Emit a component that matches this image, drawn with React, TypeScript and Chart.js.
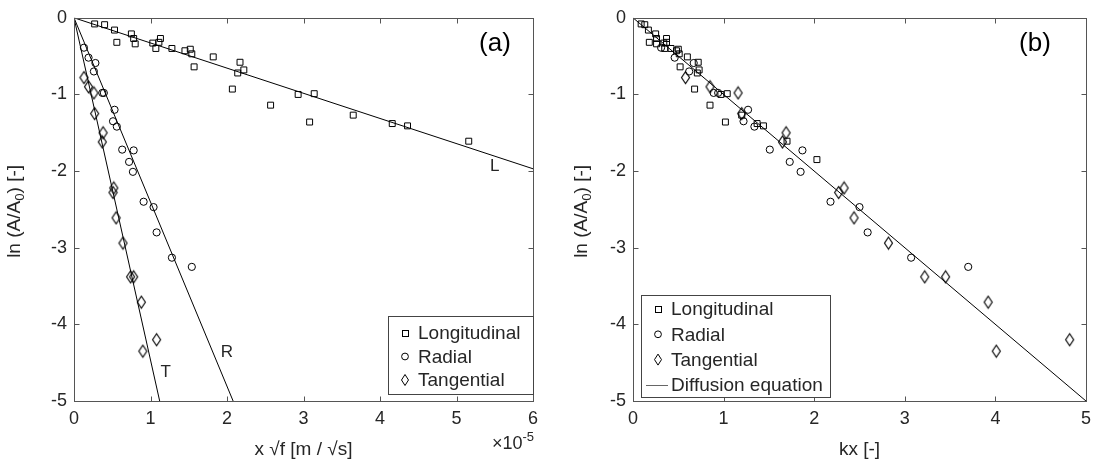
import React, { useEffect, useRef } from "react";
import { Chart, registerables } from "chart.js";

Chart.register(...registerables);

const FONT = "'Liberation Sans', Arial, Helvetica, sans-serif";
const TXT = "#262626";

// ---------- Panel (a): ln(A/A0) vs x*sqrt(f)  (x in units of 1e-5) ----------
const longX = [0.27, 0.40, 0.53, 0.56, 0.75, 0.78, 0.80, 1.03, 1.07, 1.11, 1.13, 1.28, 1.45, 1.52, 1.54, 1.57, 1.82, 2.07, 2.14, 2.17, 2.22, 2.57, 2.93, 3.08, 3.14, 3.65, 4.16, 4.36, 5.16];
const longY = [-0.08, -0.09, -0.16, -0.32, -0.21, -0.27, -0.34, -0.33, -0.40, -0.32, -0.27, -0.40, -0.43, -0.41, -0.47, -0.64, -0.51, -0.93, -0.72, -0.58, -0.68, -1.14, -1.00, -1.36, -0.99, -1.27, -1.38, -1.41, -1.61];

const radX = [0.13, 0.19, 0.28, 0.26, 0.37, 0.39, 0.53, 0.51, 0.56, 0.63, 0.78, 0.72, 0.77, 0.91, 1.04, 1.08, 1.28, 1.54];
const radY = [-0.39, -0.52, -0.59, -0.70, -0.98, -0.98, -1.20, -1.35, -1.42, -1.72, -1.73, -1.88, -2.01, -2.40, -2.47, -2.80, -3.13, -3.25];

const tanX = [0.13, 0.19, 0.26, 0.27, 0.38, 0.37, 0.52, 0.51, 0.55, 0.64, 0.74, 0.78, 0.88, 1.08, 0.90];
const tanY = [-0.78, -0.90, -0.98, -1.25, -1.50, -1.62, -2.22, -2.28, -2.61, -2.94, -3.38, -3.38, -3.71, -4.20, -4.35];

// fitted lines (start and end points)
const fitLX = [0, 6];
const fitLY = [0, -1.97];
const fitRX = [0, 2.08];
const fitRY = [0, -5];
const fitTX = [0, 1.12];
const fitTY = [0, -5];

// ---------- Panel (b): ln(A/A0) vs kx ----------
const kLongX = [0.09, 0.13, 0.17, 0.18, 0.25, 0.26, 0.26, 0.34, 0.35, 0.37, 0.37, 0.42, 0.48, 0.50, 0.51, 0.52, 0.60, 0.68, 0.71, 0.72, 0.73, 0.85, 0.97, 1.02, 1.04, 1.20, 1.37, 1.44, 1.70, 2.03];
const kLongY = [-0.08, -0.09, -0.16, -0.32, -0.21, -0.27, -0.34, -0.33, -0.40, -0.32, -0.27, -0.40, -0.43, -0.41, -0.47, -0.64, -0.51, -0.93, -0.72, -0.58, -0.68, -1.14, -1.00, -1.36, -0.99, -1.27, -1.38, -1.41, -1.61, -1.85];

const kRadX = [0.31, 0.46, 0.67, 0.62, 0.89, 0.94, 1.27, 1.22, 1.34, 1.51, 1.87, 1.73, 1.85, 2.18, 2.50, 2.59, 3.07, 3.70];
const kRadY = [-0.39, -0.52, -0.59, -0.70, -0.98, -0.98, -1.20, -1.35, -1.42, -1.72, -1.73, -1.88, -2.01, -2.40, -2.47, -2.80, -3.13, -3.25];

const kTanX = [0.58, 0.85, 1.16, 1.20, 1.69, 1.65, 2.33, 2.27, 2.44, 2.82, 3.22, 3.45, 3.92, 4.82, 4.01];
const kTanY = [-0.78, -0.90, -0.98, -1.25, -1.50, -1.62, -2.22, -2.28, -2.61, -2.94, -3.38, -3.38, -3.71, -4.20, -4.35];

const diffX = [0, 5];
const diffY = [0, -5];

const seriesNames = ["Longitudinal", "Radial", "Tangential"];
const lineName = "Diffusion equation";

// ---------- helpers ----------
const zip = (xs: number[], ys: number[]) => xs.map((x, i) => ({ x, y: ys[i] }));

let diamondImg: HTMLCanvasElement | null = null;
function diamond(): HTMLCanvasElement {
  if (diamondImg) return diamondImg;
  const c = document.createElement("canvas");
  c.width = 11;
  c.height = 15;
  const g = c.getContext("2d")!;
  g.strokeStyle = "#000";
  g.lineWidth = 1.15;
  g.beginPath();
  g.moveTo(5.5, 1.5);
  g.lineTo(9.5, 7.5);
  g.lineTo(5.5, 13.5);
  g.lineTo(1.5, 7.5);
  g.closePath();
  g.stroke();
  diamondImg = c;
  return c;
}

function markerSets(lx: number[], ly: number[], rx: number[], ry: number[], tx: number[], ty: number[]) {
  const base = { borderColor: "#000", backgroundColor: "rgba(0,0,0,0)", borderWidth: 1, showLine: false };
  return [
    { ...base, label: seriesNames[0], data: zip(lx, ly), pointStyle: "rect", pointRadius: 4.2 },
    { ...base, label: seriesNames[1], data: zip(rx, ry), pointStyle: "circle", pointRadius: 3.6 },
    { ...base, label: seriesNames[2], data: zip(tx, ty), pointStyle: diamond(), pointRadius: 5 },
  ];
}

function lineSet(xs: number[], ys: number[], label: string) {
  return {
    label,
    data: zip(xs, ys),
    showLine: true,
    borderColor: "#000",
    borderWidth: 1,
    pointRadius: 0,
    fill: false,
  };
}

type LegendCfg = { x: number; y: number; w: number; h: number; first: number; step: number; withLine: boolean };
type Extra = { text: string; dx: number; dy: number; size: number };

function drawRotatedTitle(ctx: CanvasRenderingContext2D, cx: number, cy: number, size: number) {
  ctx.save();
  ctx.translate(cx, cy);
  ctx.rotate(-Math.PI / 2);
  const parts = [
    { t: "ln (A/A", s: size, off: 0 },
    { t: "0", s: size * 0.7, off: size * 0.3 },
    { t: ") [-]", s: size, off: 0 },
  ];
  let total = 0;
  for (const p of parts) {
    ctx.font = `${p.s}px ${FONT}`;
    total += ctx.measureText(p.t).width;
  }
  let x = -total / 2;
  ctx.fillStyle = TXT;
  ctx.textBaseline = "middle";
  ctx.textAlign = "left";
  for (const p of parts) {
    ctx.font = `${p.s}px ${FONT}`;
    ctx.fillText(p.t, x, p.off);
    x += ctx.measureText(p.t).width;
  }
  ctx.restore();
}

function makePlugin(opts: {
  xTitle: string;
  yTitleX: number;
  panel: string;
  panelDx: number;
  legend: LegendCfg;
  extras: Extra[];
  exponent: boolean;
}) {
  return {
    id: "matlabLook",
    afterDraw(chart: any) {
      const { ctx, chartArea: a } = chart;
      const xs = chart.scales.x;
      const ys = chart.scales.y;
      ctx.save();
      const L = Math.round(a.left) + 0.5;
      const R = Math.round(a.right) + 0.5;
      const T = Math.round(a.top) + 0.5;
      const B = Math.round(a.bottom) + 0.5;
      ctx.strokeStyle = "#555";
      ctx.lineWidth = 1;
      ctx.strokeRect(L, T, R - L, B - T);
      ctx.beginPath();
      for (const t of xs.ticks) {
        const p = Math.round(xs.getPixelForValue(t.value)) + 0.5;
        ctx.moveTo(p, B);
        ctx.lineTo(p, B - 5);
        ctx.moveTo(p, T);
        ctx.lineTo(p, T + 5);
      }
      for (const t of ys.ticks) {
        const p = Math.round(ys.getPixelForValue(t.value)) + 0.5;
        ctx.moveTo(L, p);
        ctx.lineTo(L + 5, p);
        ctx.moveTo(R, p);
        ctx.lineTo(R - 5, p);
      }
      ctx.stroke();

      // axis titles
      ctx.fillStyle = TXT;
      ctx.font = `19px ${FONT}`;
      ctx.textAlign = "center";
      ctx.textBaseline = "middle";
      ctx.fillText(opts.xTitle, (a.left + a.right) / 2, 450);
      drawRotatedTitle(ctx, opts.yTitleX, (a.top + a.bottom) / 2 + 2, 19);

      if (opts.exponent) {
        ctx.textAlign = "right";
        ctx.font = `13px ${FONT}`;
        const w5 = ctx.measureText("-5").width;
        ctx.fillText("-5", a.right + 1, 437);
        ctx.font = `18px ${FONT}`;
        ctx.fillText("\u00d710", a.right + 1 - w5, 444);
      }

      // panel label
      ctx.font = `26px ${FONT}`;
      ctx.textAlign = "center";
      ctx.fillStyle = "#000";
      ctx.fillText(opts.panel, a.right - opts.panelDx, a.top + 26);

      // line labels
      for (const e of opts.extras) {
        ctx.font = `${e.size}px ${FONT}`;
        ctx.fillStyle = TXT;
        ctx.fillText(e.text, xs.getPixelForValue(e.dx), ys.getPixelForValue(e.dy));
      }

      // legend
      const lg = opts.legend;
      ctx.fillStyle = "#fff";
      ctx.fillRect(lg.x, lg.y, lg.w, lg.h);
      ctx.strokeStyle = "#444";
      ctx.strokeRect(Math.round(lg.x) + 0.5, Math.round(lg.y) + 0.5, lg.w, lg.h);
      const names = lg.withLine ? [...seriesNames, lineName] : seriesNames;
      names.forEach((n, i) => {
        const cy = lg.y + lg.first + i * lg.step;
        const mx = lg.x + 17;
        ctx.strokeStyle = "#000";
        ctx.lineWidth = 1;
        if (i === 0) {
          ctx.strokeRect(Math.round(mx - 3) + 0.5, Math.round(cy - 3) + 0.5, 6, 6);
        } else if (i === 1) {
          ctx.beginPath();
          ctx.arc(mx, cy, 3.4, 0, Math.PI * 2);
          ctx.stroke();
        } else if (i === 2) {
          ctx.beginPath();
          ctx.moveTo(mx, cy - 5.5);
          ctx.lineTo(mx + 3.5, cy);
          ctx.lineTo(mx, cy + 5.5);
          ctx.lineTo(mx - 3.5, cy);
          ctx.closePath();
          ctx.stroke();
        } else {
          ctx.strokeStyle = "#666";
          ctx.beginPath();
          ctx.moveTo(lg.x + 5, Math.round(cy) + 0.5);
          ctx.lineTo(lg.x + 27, Math.round(cy) + 0.5);
          ctx.stroke();
        }
        ctx.fillStyle = TXT;
        ctx.font = `19px ${FONT}`;
        ctx.textAlign = "left";
        ctx.textBaseline = "middle";
        ctx.fillText(n, lg.x + 30, cy + 1);
      });
      ctx.restore();
    },
  };
}

function scales(xMax: number, yWidth: number) {
  const tickFont = { family: FONT, size: 18 };
  return {
    x: {
      type: "linear" as const,
      min: 0,
      max: xMax,
      ticks: { stepSize: 1, color: TXT, font: tickFont, padding: 7, maxRotation: 0, autoSkip: false, callback: (v: any) => String(v) },
      grid: { display: false, drawTicks: false },
      border: { display: false },
      afterFit: (s: any) => {
        s.height = 66;
      },
    },
    y: {
      type: "linear" as const,
      min: -5,
      max: 0,
      ticks: { stepSize: 1, color: TXT, font: tickFont, padding: 7, autoSkip: false, callback: (v: any) => String(v) },
      grid: { display: false, drawTicks: false },
      border: { display: false },
      afterFit: (s: any) => {
        s.width = yWidth;
      },
    },
  };
}

function configA(): any {
  return {
    type: "scatter",
    data: {
      datasets: [
        ...markerSets(longX, longY, radX, radY, tanX, tanY),
        lineSet(fitLX, fitLY, "L"),
        lineSet(fitRX, fitRY, "R"),
        lineSet(fitTX, fitTY, "T"),
      ],
    },
    options: {
      responsive: false,
      animation: false,
      events: [],
      layout: { padding: { left: 0, right: 16, top: 11, bottom: 0 } },
      scales: scales(6, 74),
      plugins: { legend: { display: false }, tooltip: { enabled: false } },
    },
    plugins: [
      makePlugin({
        xTitle: "x \u221af [m / \u221as]",
        yTitleX: 15,
        panel: "(a)",
        panelDx: 38,
        legend: { x: 388, y: 316, w: 145, h: 78, first: 17, step: 23.5, withLine: false },
        extras: [
          { text: "L", dx: 5.5, dy: -1.94, size: 17 },
          { text: "R", dx: 2.0, dy: -4.37, size: 17 },
          { text: "T", dx: 1.2, dy: -4.62, size: 17 },
        ],
        exponent: true,
      }),
    ],
  };
}

function configB(): any {
  return {
    type: "scatter",
    data: {
      datasets: [...markerSets(kLongX, kLongY, kRadX, kRadY, kTanX, kTanY), lineSet(diffX, diffY, lineName)],
    },
    options: {
      responsive: false,
      animation: false,
      events: [],
      layout: { padding: { left: 0, right: 6, top: 11, bottom: 0 } },
      scales: scales(5, 84),
      plugins: { legend: { display: false }, tooltip: { enabled: false } },
    },
    plugins: [
      makePlugin({
        xTitle: "kx [-]",
        yTitleX: 33,
        panel: "(b)",
        panelDx: 51,
        legend: { x: 92, y: 295, w: 189, h: 102, first: 14, step: 25.3, withLine: true },
        extras: [],
        exponent: false,
      }),
    ],
  };
}

function Panel({ left, width, make }: { left: number; width: number; make: () => any }) {
  const ref = useRef<HTMLCanvasElement>(null);
  useEffect(() => {
    const chart = new Chart(ref.current!, make());
    return () => chart.destroy();
  }, []);
  return (
    <div style={{ position: "absolute", left, top: 0, width, height: 467 }}>
      <canvas ref={ref} width={width} height={467} style={{ display: "block" }} />
    </div>
  );
}

export default function App() {
  return (
    <div style={{ position: "absolute", left: 0, top: 0, width: 1098, height: 467, background: "#fff" }}>
      <Panel left={0} width={549} make={configA} />
      <Panel left={549} width={549} make={configB} />
    </div>
  );
}
